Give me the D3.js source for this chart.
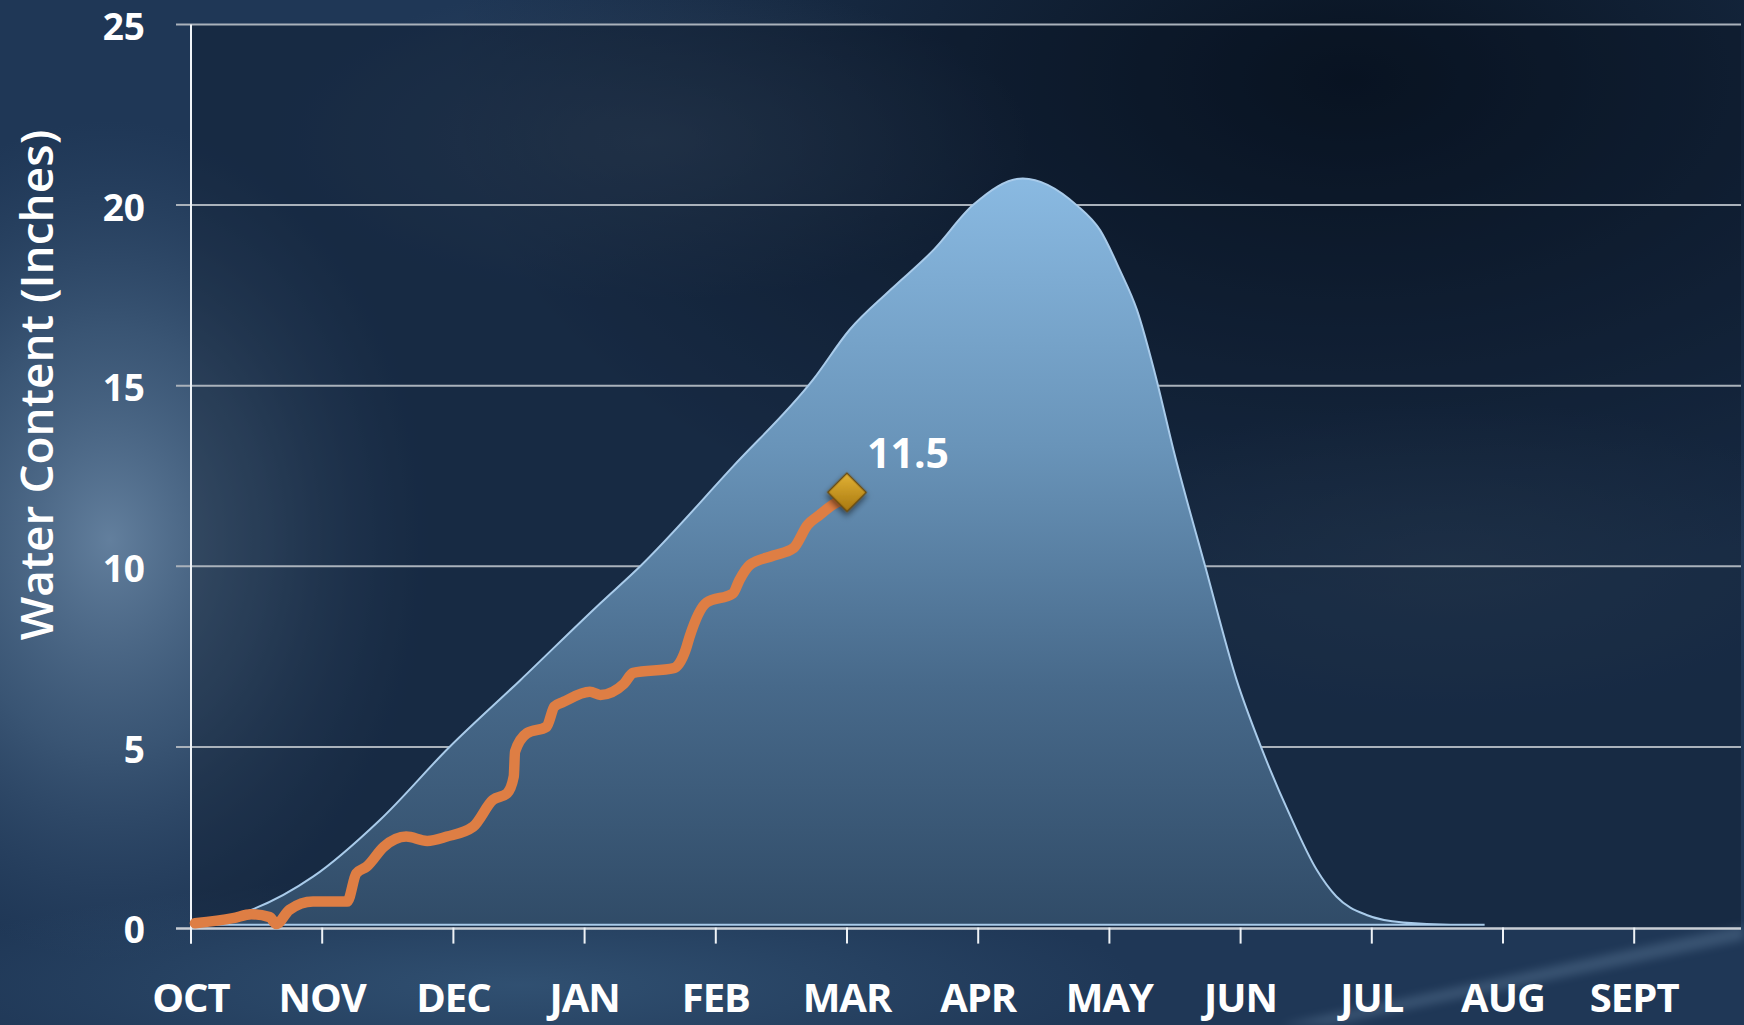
<!DOCTYPE html>
<html>
<head>
<meta charset="utf-8">
<script src="https://cdn.jsdelivr.net/npm/d3@7"></script>
<style>
html, body { margin: 0; padding: 0; background: #1d3452; overflow: hidden; }
svg { display: block; }
</style>
</head>
<body>
<div id="chart" style="width:1744px;height:1025px"></div>
<script>
// months since Oct 1 (0 = Oct 1, 1 = Nov 1, ...)
const months = ["OCT", "NOV", "DEC", "JAN", "FEB", "MAR", "APR", "MAY", "JUN", "JUL", "AUG", "SEPT"];
const yTicks = [0, 5, 10, 15, 20, 25];

// median snow water content (area)
const medianMonth = [0, 0.17, 0.42, 0.93, 1.44, 1.97, 2.51, 3.12, 3.42, 4.13, 4.74, 5.02, 5.33, 5.66, 5.96, 6.34,
    6.75, 6.93, 7.08, 7.21, 7.35, 7.49, 7.73, 7.97, 8.16, 8.37, 8.58, 8.73, 8.96, 9.24, 9.6, 9.86];
const medianValue = [0.1, 0.2, 0.44, 1.41, 2.98, 5.0, 6.85, 8.98, 9.99, 12.76, 15.16, 16.55, 17.65, 18.76, 20.0, 20.74,
    20.0, 19.3, 18.2, 17.1, 15.3, 13.2, 10.0, 6.85, 4.96, 3.16, 1.6, 0.86, 0.35, 0.14, 0.08, 0.08];

// current season (line)
const currentMonth = [0.03, 0.32, 0.46, 0.60, 0.65, 0.75, 0.93, 1.19, 1.26, 1.34, 1.47, 1.64, 1.80, 1.95, 2.15,
    2.30, 2.41, 2.46, 2.47, 2.56, 2.71, 2.77, 2.84, 3.04, 3.12, 3.30, 3.37, 3.68, 3.77, 3.80, 3.93, 4.13, 4.18,
    4.26, 4.44, 4.59, 4.70, 4.79, 4.89, 4.96];
const currentValue = [0.12, 0.26, 0.37, 0.29, 0.10, 0.49, 0.72, 0.72, 1.50, 1.69, 2.24, 2.52, 2.40, 2.52, 2.79,
    3.53, 3.72, 4.18, 4.87, 5.38, 5.56, 6.12, 6.25, 6.53, 6.44, 6.75, 7.05, 7.18, 7.69, 8.05, 9.0, 9.25, 9.62,
    10.04, 10.3, 10.5, 11.15, 11.42, 11.70, 11.85];

const latestMonth = [5.0];
const latestValue = [12.05];
const latestLabel = ["11.5"];

const baseValue = 0.08;

function drawSnowChart(selector) {
    const container = d3.select(selector);
    container.selectAll("*").remove();

    const width = 1744;
    const height = 1025;
    const left = 191, top = 24.5, right = 1741, bottom = 927.6;
    const monthW = 131.2;

    const svg = container.append("svg")
        .attr("width", width)
        .attr("height", height);

    const defs = svg.append("defs");

    const radial = (id, stops) => {
        const g = defs.append("radialGradient").attr("id", id);
        stops.forEach(s => g.append("stop").attr("offset", s[0]).attr("stop-color", s[1]).attr("stop-opacity", s[2]));
    };
    radial("glowLeft", [[0, "#6a87a5", 0.9], [0.5, "#4f6d8c", 0.55], [1, "#3a5676", 0]]);
    radial("glowBottom", [[0, "#36587a", 0.75], [1, "#36587a", 0]]);
    radial("glowTop", [[0, "#3c5068", 0.55], [1, "#3c5068", 0]]);
    radial("darkCorner", [[0, "#040c17", 0.85], [1, "#040c17", 0]]);
    radial("glowRight", [[0, "#344a62", 0.5], [1, "#344a62", 0]]);

    const blur = defs.append("filter").attr("id", "blur").attr("x", "-50%").attr("y", "-50%")
        .attr("width", "200%").attr("height", "200%");
    blur.append("feGaussianBlur").attr("stdDeviation", 4);

    const shadow = defs.append("filter").attr("id", "shadow").attr("x", "-50%").attr("y", "-50%")
        .attr("width", "200%").attr("height", "200%");
    shadow.append("feDropShadow").attr("dx", 2).attr("dy", 3).attr("stdDeviation", 3)
        .attr("flood-color", "#000").attr("flood-opacity", 0.55);

    // Background
    svg.append("rect").attr("width", width).attr("height", height).attr("fill", "#1f3756");
    svg.append("ellipse").attr("cx", 1350).attr("cy", 80).attr("rx", 900).attr("ry", 520).attr("fill", "url(#darkCorner)");
    svg.append("ellipse").attr("cx", 650).attr("cy", 140).attr("rx", 380).attr("ry", 160).attr("fill", "url(#glowTop)");
    svg.append("ellipse").attr("cx", 1450).attr("cy", 560).attr("rx", 400).attr("ry", 160).attr("fill", "url(#glowRight)");
    svg.append("ellipse").attr("cx", 110).attr("cy", 540).attr("rx", 320).attr("ry", 420).attr("fill", "url(#glowLeft)");
    svg.append("ellipse").attr("cx", 520).attr("cy", 985).attr("rx", 620).attr("ry", 110).attr("fill", "url(#glowBottom)");
    svg.append("path")
        .attr("d", "M1280,1025 L1744,925 L1744,940 L1330,1025 Z")
        .attr("fill", "#6a88a6").attr("opacity", 0.35).attr("filter", "url(#blur)");

    // Plot area overlay
    svg.append("rect")
        .attr("x", left).attr("y", top)
        .attr("width", right - left).attr("height", bottom - top)
        .attr("fill", "#0a1626").attr("opacity", 0.38);

    const x = d3.scaleLinear().domain([0, 12]).range([left, left + 12 * monthW]);
    const y = d3.scaleLinear().domain([0, 25]).range([bottom, top]);

    // Grid
    svg.append("g").selectAll("line")
        .data(yTicks.filter(d => d > 0))
        .enter()
        .append("line")
        .attr("x1", left - 15).attr("x2", right)
        .attr("y1", d => y(d)).attr("y2", d => y(d))
        .style("stroke", "#aab2bb")
        .style("stroke-width", 2);

    // Area gradient
    const areaGrad = defs.append("linearGradient").attr("id", "areaGrad")
        .attr("gradientUnits", "userSpaceOnUse")
        .attr("x1", 0).attr("x2", 0).attr("y1", y(20.8)).attr("y2", y(0));
    [[0, "#8abae2"], [0.36, "#6994b9"], [0.68, "#47698a"], [1, "#304b67"]].forEach(s =>
        areaGrad.append("stop").attr("offset", s[0]).attr("stop-color", s[1]));

    const medianData = medianMonth.map((m, i) => ({ m: m, v: medianValue[i] }));
    const area = d3.area()
        .curve(d3.curveMonotoneX)
        .x(d => x(d.m))
        .y0(y(baseValue))
        .y1(d => y(d.v));

    svg.append("path")
        .datum(medianData)
        .attr("d", area)
        .style("fill", "url(#areaGrad)")
        .style("stroke", "#a9cbea")
        .style("stroke-width", 2);

    // X axis
    svg.append("line")
        .attr("x1", left - 15).attr("x2", right)
        .attr("y1", bottom + 1).attr("y2", bottom + 1)
        .style("stroke", "#c9ced4")
        .style("stroke-width", 2.5);

    svg.append("g").selectAll("line")
        .data(months)
        .enter()
        .append("line")
        .attr("x1", (d, i) => x(i)).attr("x2", (d, i) => x(i))
        .attr("y1", bottom).attr("y2", bottom + 16)
        .style("stroke", "#eef2f6")
        .style("stroke-width", 2);

    svg.append("g").selectAll("text")
        .data(months)
        .enter()
        .append("text")
        .attr("x", (d, i) => x(i))
        .attr("y", 1012)
        .attr("text-anchor", "middle")
        .style("font-family", "'Open Sans', sans-serif")
        .style("font-weight", 700)
        .style("font-size", "40px")
        .style("letter-spacing", "-1px")
        .style("fill", "#ffffff")
        .text(d => d);

    // Y axis
    svg.append("line")
        .attr("x1", left).attr("x2", left)
        .attr("y1", top).attr("y2", bottom + 16)
        .style("stroke", "#f0f4f8")
        .style("stroke-width", 2);

    svg.append("g").selectAll("text")
        .data(yTicks)
        .enter()
        .append("text")
        .attr("x", 145)
        .attr("y", d => y(d))
        .attr("dy", "0.42em")
        .attr("text-anchor", "end")
        .style("font-family", "'Open Sans', sans-serif")
        .style("font-weight", 700)
        .style("font-size", "37px")
        .style("fill", "#ffffff")
        .text(d => d);

    svg.append("text")
        .attr("transform", "translate(53,385) rotate(-90)")
        .attr("text-anchor", "middle")
        .style("font-family", "'Open Sans', sans-serif")
        .style("font-weight", 600)
        .style("font-size", "46px")
        .style("fill", "#ffffff")
        .text("Water Content (Inches)");

    // Current season line
    const currentData = currentMonth.map((m, i) => ({ m: m, v: currentValue[i] }));
    const line = d3.line()
        .curve(d3.curveMonotoneX)
        .x(d => x(d.m))
        .y(d => y(d.v));

    svg.append("path")
        .datum(currentData)
        .attr("d", line)
        .style("fill", "none")
        .style("stroke", "#de7e44")
        .style("stroke-width", 10.5)
        .style("stroke-linejoin", "round")
        .style("stroke-linecap", "round");

    // Latest marker
    const goldGrad = defs.append("linearGradient").attr("id", "goldGrad")
        .attr("x1", 0).attr("y1", 0).attr("x2", 1).attr("y2", 1);
    goldGrad.append("stop").attr("offset", 0).attr("stop-color", "#e2b236");
    goldGrad.append("stop").attr("offset", 1).attr("stop-color", "#a8780f");

    svg.append("g").selectAll("path")
        .data(latestMonth)
        .enter()
        .append("path")
        .attr("d", d3.symbol(d3.symbolSquare, 740))
        .attr("transform", (d, i) => `translate(${x(d)},${y(latestValue[i])}) rotate(45)`)
        .style("fill", "url(#goldGrad)")
        .style("stroke", "#6b4a0a")
        .style("stroke-width", 1.5)
        .attr("filter", "url(#shadow)");

    svg.append("g").selectAll("text")
        .data(latestMonth)
        .enter()
        .append("text")
        .attr("x", d => x(d) + 20)
        .attr("y", (d, i) => y(latestValue[i]) - 24)
        .style("font-family", "'Open Sans', sans-serif")
        .style("font-weight", 700)
        .style("font-size", "41px")
        .style("fill", "#ffffff")
        .text((d, i) => latestLabel[i]);
}

drawSnowChart("#chart");
</script>
</body>
</html>
